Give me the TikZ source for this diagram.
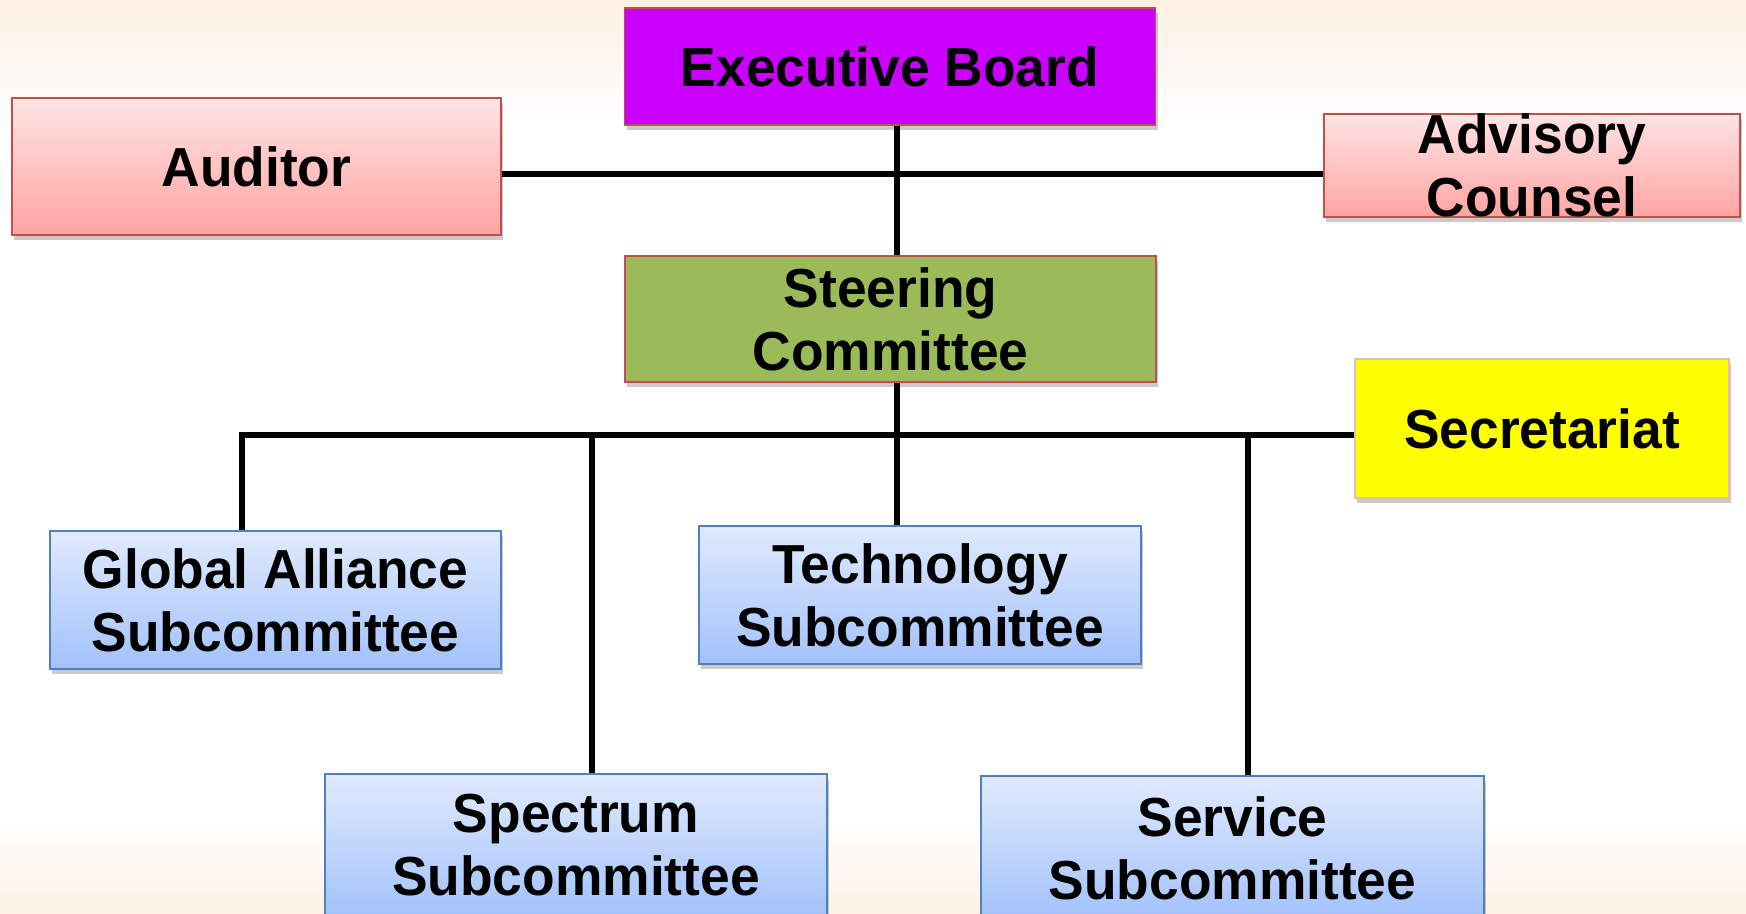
\documentclass[tikz,border=0pt]{standalone}
\usepackage{fontspec}
\newfontfamily\boxfont{Liberation Sans}[FakeStretch=0.97]
\usetikzlibrary{shadows}
\definecolor{peach}{HTML}{FDF1E4}
\definecolor{execc}{HTML}{CC00FF}
\definecolor{redb}{HTML}{C0504D}
\definecolor{pinktop}{HTML}{FFE4E4}
\definecolor{pinkbot}{HTML}{FFA4A2}
\definecolor{steerc}{HTML}{9BBB59}
\definecolor{secb}{HTML}{E6B9B8}
\definecolor{secc}{RGB}{255,255,0}
\definecolor{bluetop}{HTML}{E0EAFD}
\definecolor{bluebot}{HTML}{A2C2FC}
\definecolor{blueb}{HTML}{4F81BD}
\tikzset{
  orgbox/.style={draw, line width=0.9pt, inner sep=0pt, align=center,
    font=\boxfont\bfseries\fontsize{27.5}{31.5}\selectfont,
    drop shadow={shadow xshift=1pt, shadow yshift=-2.5pt, opacity=0.35, fill=black!60}},
  pinkbox/.style={orgbox, draw=redb, top color=pinktop, bottom color=pinkbot},
  bluebox/.style={orgbox, draw=blueb, top color=bluetop, bottom color=bluebot},
  link/.style={line width=2.9pt, black}
}
\begin{document}
\begin{tikzpicture}[x=0.5pt, y=-0.5pt]
\useasboundingbox (0,0) rectangle (1746,914);
\shade[top color=peach, bottom color=white] (0,0) rectangle (1746,130);
\shade[top color=white, bottom color=peach] (0,820) rectangle (1746,914);

\node[orgbox, draw=redb, fill=execc, minimum width=265.5pt, minimum height=58.5pt] (exec) at (890,66.5) {Executive Board};
\node[pinkbox, minimum width=244.5pt, minimum height=68.5pt] (aud) at (256.5,166.5) {Auditor};
\node[pinkbox, minimum width=208pt, minimum height=51.5pt,
  label={[font=\boxfont\bfseries\fontsize{27.5}{31.5}\selectfont, align=center]center:Advisory\\Counsel}] (adv) at (1532,165.5) {};
\node[orgbox, draw=redb, fill=steerc, minimum width=265.5pt, minimum height=63pt] (steer) at (890.5,319) {Steering\\Committee};
\node[orgbox, draw=secb, fill=secc, minimum width=187pt, minimum height=69.5pt] (sec) at (1542,428.5) {Secretariat};
\node[bluebox, minimum width=225.5pt, minimum height=69pt] (glob) at (275.5,600) {Global Alliance\\Subcommittee};
\node[bluebox, minimum width=221pt, minimum height=69pt] (tech) at (920,595) {Technology\\Subcommittee};
\node[bluebox, minimum width=251pt, minimum height=71pt] (spec) at (576,845) {Spectrum\\Subcommittee};
\node[bluebox, minimum width=251.5pt, minimum height=72pt] (serv) at (1232.5,848) {Service\\Subcommittee};

\coordinate (h1) at (897,174);
\coordinate (h2) at (242,435);
\coordinate (b2) at (592,435);
\coordinate (b3) at (1248,435);

\draw[link] (aud.east |- h1) -- (adv.west |- h1);
\draw[link] (exec.south -| h1) -- (steer.north -| h1);
\draw[link] (steer.south -| h1) -- (tech.north -| h1);
\draw[link] (h2) -- (sec.west |- h2);
\draw[link] ([yshift=1.45pt]h2) -- (glob.north -| h2);
\draw[link] (b2) -- (spec.north -| b2);
\draw[link] (b3) -- (serv.north -| b3);
\end{tikzpicture}
\end{document}
